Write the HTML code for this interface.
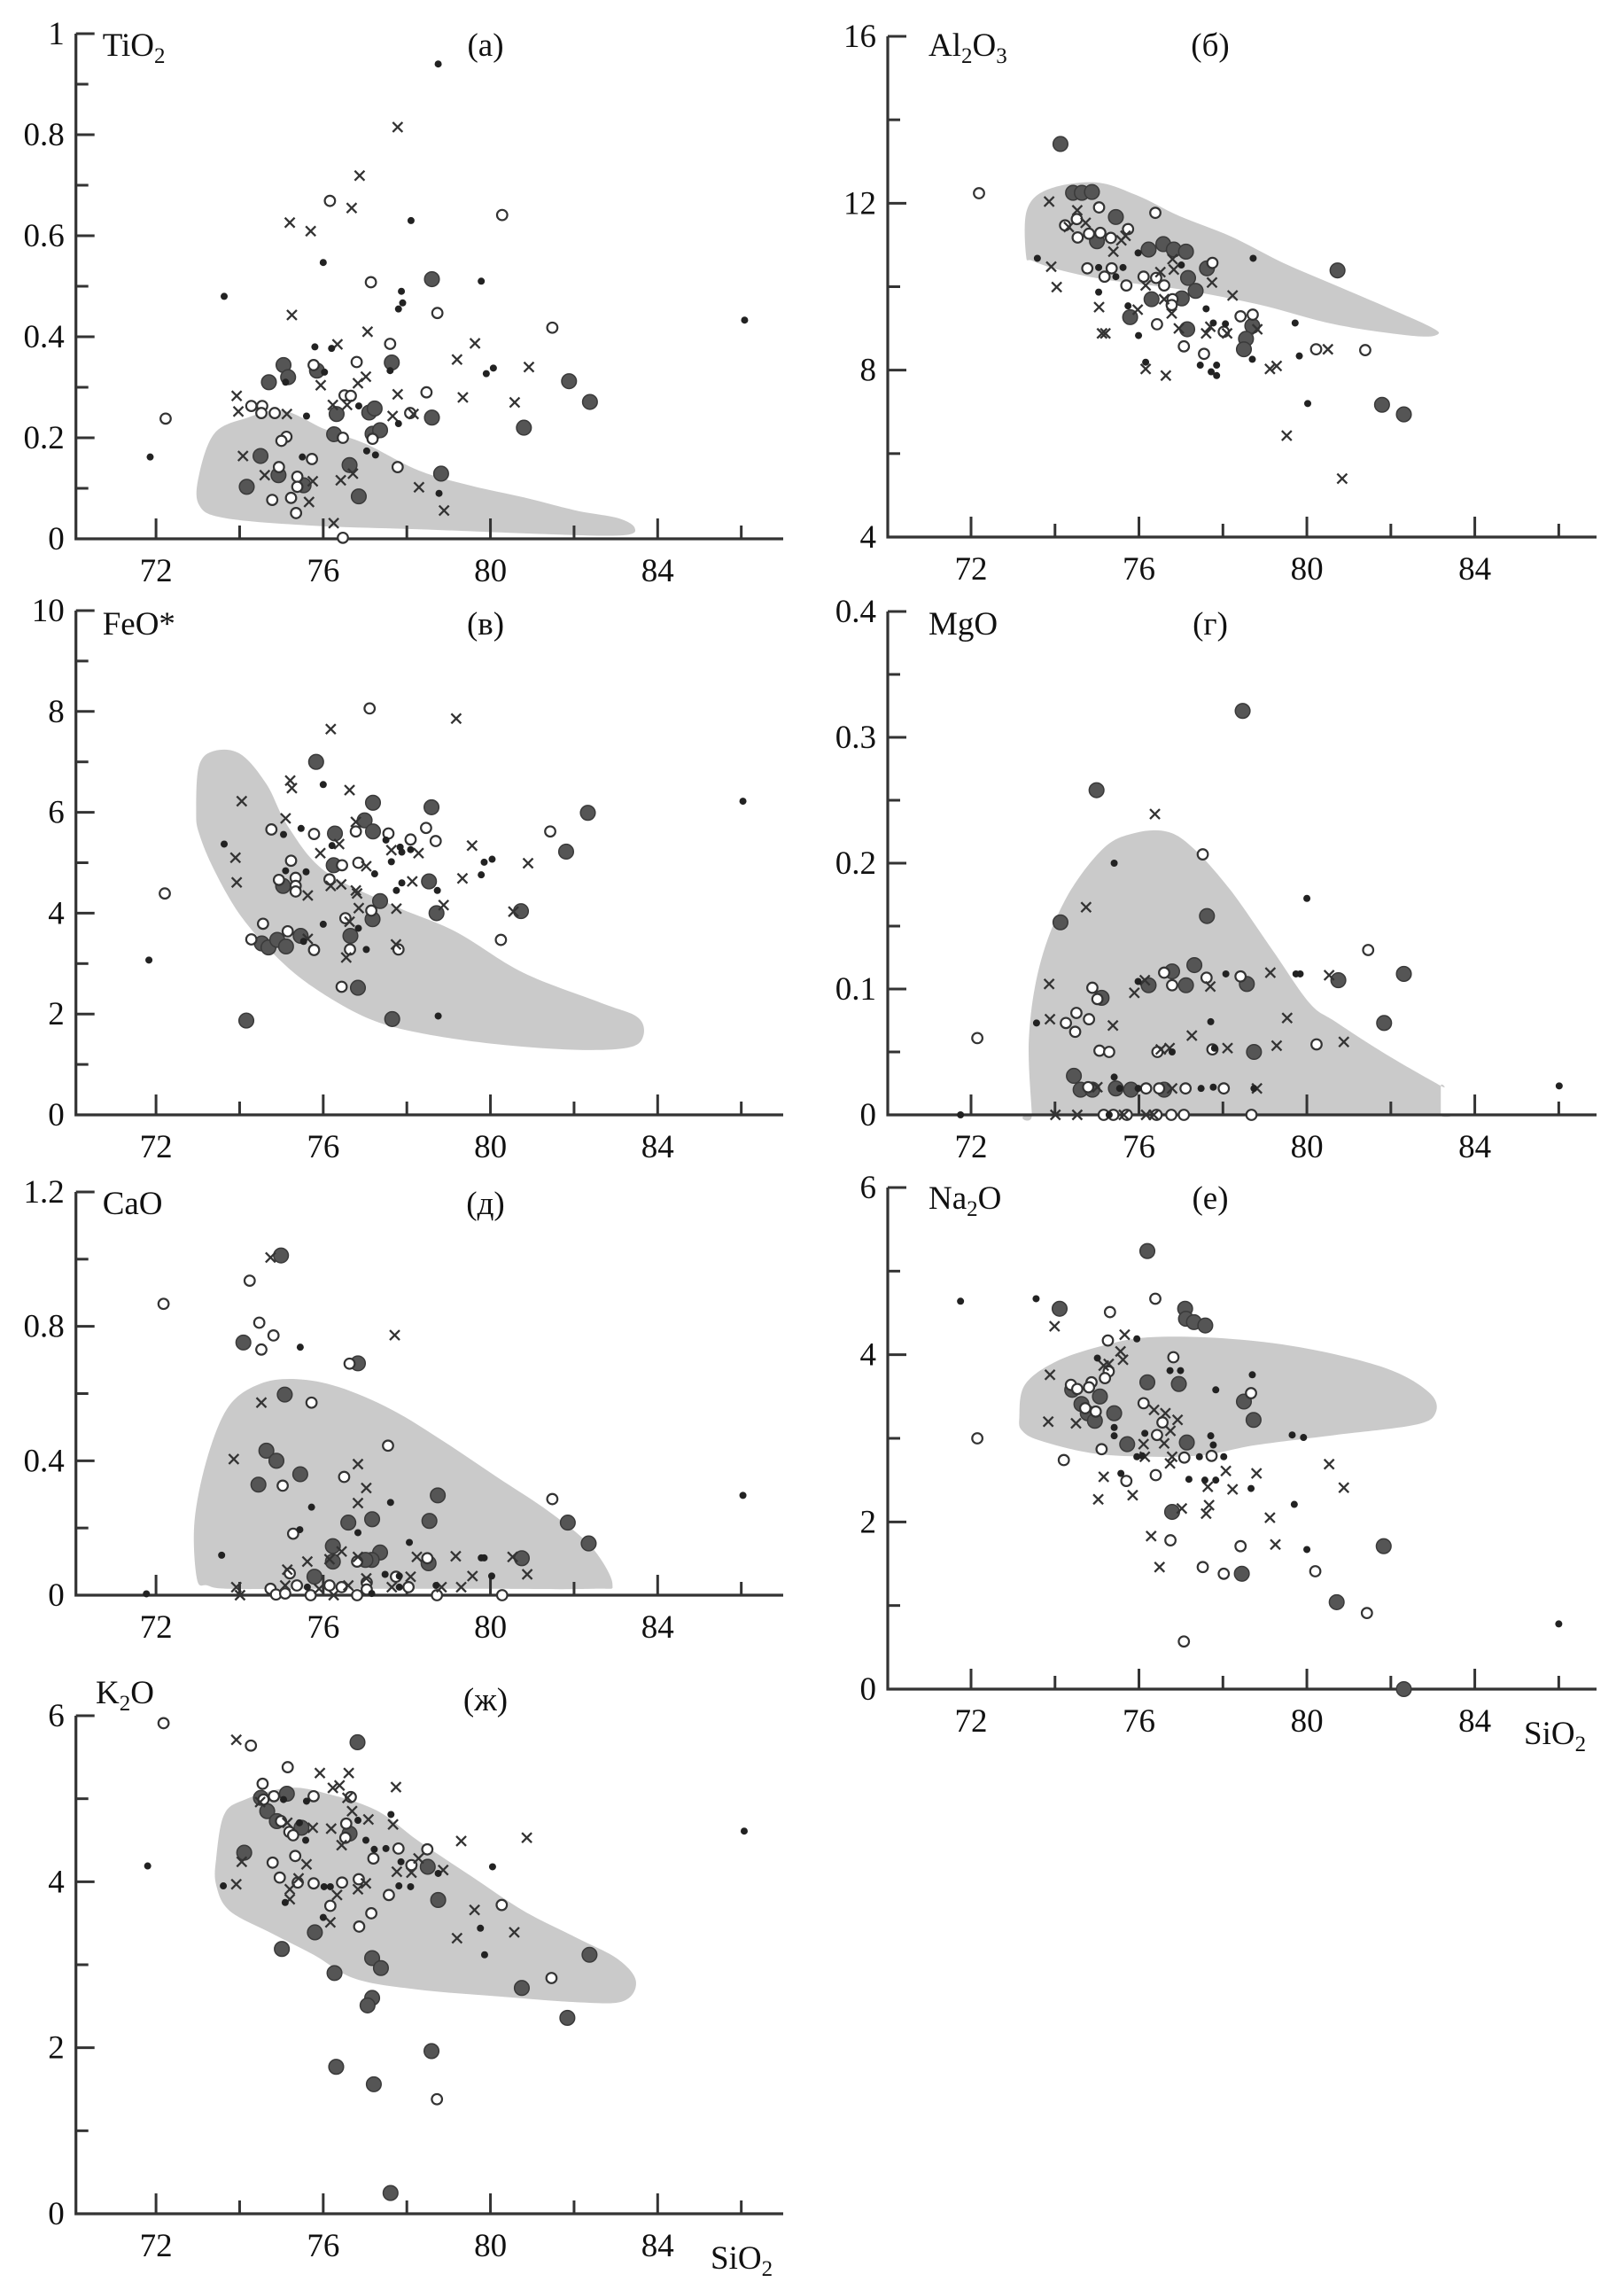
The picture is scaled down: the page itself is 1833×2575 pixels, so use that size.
<!DOCTYPE html>
<html><head><meta charset="utf-8"><title>SiO2 variation diagrams</title>
<style>
html,body{margin:0;padding:0;background:#fff;}
svg{display:block;}
svg text{font-family:"Liberation Serif","DejaVu Serif",serif !important;fill:#111;}
</style></head>
<body>
<svg id="fig" xmlns="http://www.w3.org/2000/svg" width="1833" height="2575" viewBox="0 0 1833 2575" font-family="Liberation Serif, serif"></svg>
<script>
// ---------- data (SiO2, oxide wt%) ----------
const xTickLabels = ['72','76','80','84'];
// TiO2
const tiTickLabels = ['0','0.2','0.4','0.6','0.8','1'];
const tiField = [[73.03,0.127],[73.4,0.209],[74.16,0.239],[75.03,0.254],[76.04,0.217],[77.04,0.187],[78.29,0.135],[79.54,0.105],[80.8,0.082],[82.05,0.056],[83.05,0.041],[83.45,0.022],[83.18,0.007],[81.42,0.009],[78.29,0.019],[75.78,0.026],[73.65,0.041],[73.03,0.067]];
const tiDots = [[71.86,0.162],[73.63,0.48],[78.75,0.94],[76.0,0.547],[78.1,0.63],[79.78,0.51],[77.87,0.49],[77.9,0.467],[77.8,0.455],[86.08,0.433],[75.8,0.38],[76.2,0.377],[80.07,0.338],[79.9,0.327],[77.6,0.333],[75.6,0.243],[76.85,0.263],[77.8,0.228],[77.04,0.174],[77.25,0.166],[75.5,0.162],[78.77,0.09],[75.1,0.31],[76.03,0.33]];
const tiBig = [[78.6,0.514],[75.05,0.344],[75.16,0.32],[74.7,0.31],[75.85,0.333],[77.64,0.349],[81.88,0.312],[82.38,0.271],[76.32,0.247],[77.1,0.25],[77.23,0.258],[78.6,0.24],[80.8,0.22],[76.26,0.207],[77.18,0.208],[77.36,0.215],[74.5,0.164],[74.17,0.103],[74.93,0.126],[75.53,0.106],[76.63,0.146],[76.85,0.084],[78.82,0.129]];
const tiOpen = [[72.23,0.238],[76.16,0.669],[80.28,0.641],[77.14,0.508],[78.73,0.447],[81.48,0.418],[77.6,0.386],[75.77,0.344],[76.8,0.35],[78.47,0.29],[76.51,0.284],[76.66,0.283],[74.28,0.263],[74.54,0.263],[74.52,0.249],[74.84,0.249],[78.08,0.249],[75.12,0.202],[75.0,0.194],[76.47,0.2],[77.18,0.198],[75.73,0.158],[74.94,0.142],[77.78,0.142],[75.38,0.123],[75.38,0.103],[74.78,0.077],[75.23,0.081],[75.35,0.051],[76.47,0.002]];
const tiCross = [[77.78,0.815],[76.87,0.719],[76.68,0.655],[75.2,0.626],[75.7,0.609],[75.25,0.443],[77.06,0.41],[76.34,0.385],[79.63,0.387],[79.2,0.355],[80.92,0.34],[77.02,0.321],[75.94,0.304],[76.83,0.308],[73.93,0.283],[77.78,0.286],[79.34,0.28],[80.58,0.27],[73.97,0.252],[75.13,0.247],[76.23,0.265],[76.57,0.265],[77.66,0.243],[78.16,0.247],[74.08,0.164],[74.6,0.126],[75.75,0.114],[76.42,0.116],[76.71,0.129],[78.29,0.102],[75.66,0.073],[78.89,0.056],[76.25,0.031]];
// Al2O3
const alTickLabels = ['4','8','12','16'];
const alField = [[73.31,10.75],[73.33,11.83],[73.83,12.33],[74.96,12.5],[75.95,12.19],[76.95,11.7],[78.2,11.2],[79.44,10.57],[80.69,10.03],[81.94,9.49],[82.94,9.04],[83.12,8.86],[82.56,8.82],[80.69,9.09],[78.82,9.58],[76.95,9.94],[75.2,10.17],[74.08,10.41],[73.46,10.62]];
const alDots = [[73.58,10.68],[75.04,10.46],[75.62,10.46],[75.45,10.24],[75.04,9.87],[75.74,9.54],[75.99,8.83],[75.98,10.81],[77.01,10.52],[77.6,9.47],[77.77,9.13],[78.06,9.11],[78.72,10.68],[79.72,9.13],[79.82,8.34],[76.16,8.19],[77.46,8.12],[77.85,8.12],[77.72,7.96],[77.85,7.87],[78.7,8.26],[80.02,7.2]];
const alBig = [[74.13,13.42],[74.43,12.25],[74.64,12.25],[74.88,12.27],[75.45,11.67],[75.0,11.09],[76.23,10.89],[76.58,11.02],[76.83,10.89],[77.12,10.84],[77.62,10.44],[77.17,10.21],[77.35,9.9],[77.02,9.72],[76.3,9.7],[75.79,9.27],[77.15,8.98],[78.7,9.06],[78.55,8.75],[78.5,8.5],[80.73,10.39],[81.79,7.17],[82.31,6.94]];
const alOpen = [[72.19,12.24],[75.05,11.9],[76.39,11.77],[74.24,11.47],[74.52,11.62],[75.74,11.38],[74.54,11.18],[74.81,11.27],[75.08,11.29],[75.33,11.17],[74.77,10.44],[75.18,10.24],[75.35,10.44],[75.7,10.03],[76.11,10.24],[76.41,10.21],[76.6,10.03],[76.8,9.7],[76.78,9.56],[77.75,10.57],[76.43,9.1],[77.07,8.57],[77.55,8.39],[78.02,8.92],[78.42,9.29],[78.71,9.33],[80.22,8.5],[81.39,8.48]];
const alCross = [[73.86,12.04],[74.53,11.83],[74.73,11.53],[74.33,11.43],[75.68,11.22],[75.58,11.11],[75.39,10.84],[73.91,10.48],[74.04,9.99],[75.05,9.51],[75.12,8.88],[75.2,8.88],[75.97,9.45],[76.16,10.03],[76.51,10.35],[76.83,10.41],[76.8,10.66],[76.6,9.7],[76.78,9.36],[76.95,9.0],[77.74,10.1],[78.23,9.79],[77.6,8.88],[77.7,9.04],[78.1,8.88],[78.82,8.98],[76.16,8.03],[76.64,7.87],[79.12,8.03],[79.28,8.1],[80.5,8.5],[79.52,6.43],[80.84,5.4]];
// FeO*
const feTickLabels = ['0','2','4','6','8','10'];
const feField = [[72.96,6.03],[73.03,6.93],[73.4,7.22],[74.03,7.15],[74.65,6.55],[75.15,5.73],[76.03,4.84],[77.65,4.16],[79.15,3.64],[80.78,2.82],[82.65,2.22],[83.53,1.93],[83.65,1.55],[83.28,1.33],[82.03,1.29],[80.15,1.4],[78.28,1.63],[77.03,1.93],[75.78,2.52],[74.9,3.12],[74.03,3.94],[73.4,4.84],[73.03,5.58]];
const feDots = [[71.83,3.07],[73.63,5.37],[75.05,5.56],[75.47,5.68],[76.0,6.55],[75.1,4.84],[75.59,4.82],[76.21,5.34],[77.5,5.45],[77.63,5.02],[77.84,5.31],[77.88,5.21],[78.09,5.26],[77.23,4.78],[77.88,4.6],[77.75,4.45],[78.73,4.45],[79.78,4.76],[79.85,5.01],[80.04,5.07],[76.0,3.78],[76.84,3.7],[77.03,3.28],[78.75,1.96],[86.04,6.22],[75.53,3.44]];
const feBig = [[75.83,7.0],[77.19,6.19],[78.59,6.1],[82.33,5.99],[76.99,5.84],[77.19,5.62],[76.28,5.58],[76.25,4.95],[81.81,5.22],[75.04,4.54],[78.53,4.63],[77.36,4.24],[77.18,3.88],[78.71,4.0],[80.73,4.04],[74.53,3.4],[74.69,3.32],[74.9,3.47],[75.11,3.34],[75.46,3.55],[76.65,3.55],[76.83,2.52],[74.16,1.87],[77.65,1.9]];
const feOpen = [[77.11,8.06],[72.21,4.39],[74.76,5.66],[75.78,5.57],[76.78,5.62],[77.56,5.58],[78.09,5.46],[78.46,5.69],[78.69,5.43],[75.23,5.04],[76.45,4.95],[76.84,5.0],[74.94,4.66],[75.34,4.7],[75.34,4.54],[75.34,4.43],[76.15,4.67],[81.43,5.62],[74.56,3.79],[74.28,3.48],[75.15,3.64],[75.78,3.27],[76.53,3.9],[76.64,3.28],[77.15,4.05],[77.8,3.28],[80.25,3.47],[76.44,2.54]];
const feCross = [[76.18,7.65],[79.18,7.86],[75.21,6.63],[75.25,6.48],[76.63,6.44],[74.05,6.22],[75.1,5.88],[76.78,5.81],[75.93,5.19],[76.38,5.37],[77.63,5.25],[78.28,5.19],[79.56,5.34],[73.9,5.1],[77.03,4.93],[80.9,4.99],[73.93,4.61],[75.63,4.35],[76.18,4.54],[76.43,4.57],[76.78,4.45],[76.81,4.39],[78.13,4.63],[79.33,4.69],[76.85,4.1],[77.75,4.09],[78.88,4.16],[80.55,4.03],[76.63,3.83],[75.63,3.49],[76.55,3.12],[77.74,3.38]];
// MgO
const mgTickLabels = ['0','0.1','0.2','0.3','0.4'];
const mgField = [[73.45,0.0],[73.45,0.0],[73.38,0.062],[73.66,0.122],[74.28,0.173],[75.16,0.212],[75.91,0.224],[76.67,0.225],[77.29,0.212],[78.17,0.179],[79.18,0.131],[80.06,0.089],[80.68,0.074],[81.94,0.047],[83.19,0.023],[83.19,0.023],[83.19,0.0],[83.19,0.0],[80.0,0.0],[76.5,0.0]];
const mgDots = [[71.75,0],[73.56,0.073],[75.41,0.2],[75.98,0.106],[80.0,0.172],[75.41,0.03],[75.54,0.021],[75.98,0.021],[77.48,0.021],[77.77,0.022],[77.71,0.074],[76.79,0.05],[78.07,0.112],[79.74,0.112],[79.84,0.112],[86.01,0.023],[75.29,0],[78.74,0.021],[77.8,0.053]];
const mgBig = [[78.47,0.321],[74.99,0.258],[74.13,0.153],[77.62,0.158],[77.32,0.119],[76.79,0.114],[76.23,0.103],[77.12,0.103],[78.57,0.104],[80.75,0.107],[82.31,0.112],[81.84,0.073],[75.11,0.093],[78.74,0.05],[74.45,0.031],[74.61,0.02],[74.89,0.02],[75.45,0.021],[75.81,0.02],[76.6,0.02]];
const mgOpen = [[77.52,0.207],[81.46,0.131],[76.6,0.113],[76.79,0.103],[77.61,0.109],[78.42,0.11],[74.89,0.101],[75.01,0.092],[74.51,0.081],[74.26,0.073],[74.81,0.076],[74.48,0.066],[72.15,0.061],[75.06,0.051],[75.29,0.05],[76.44,0.05],[77.75,0.052],[80.23,0.056],[74.79,0.022],[76.17,0.021],[76.48,0.021],[77.11,0.021],[78.02,0.021],[75.16,0],[75.39,0],[75.71,0],[76.42,0],[76.77,0],[77.07,0],[78.68,0]];
const mgCross = [[76.38,0.239],[74.74,0.165],[73.86,0.104],[75.89,0.097],[76.14,0.107],[77.7,0.102],[79.13,0.113],[80.53,0.111],[73.88,0.076],[75.38,0.071],[79.53,0.077],[77.26,0.063],[76.52,0.052],[76.73,0.053],[78.11,0.053],[79.28,0.055],[80.88,0.058],[75.01,0.022],[76.79,0.021],[78.81,0.021],[74.01,0],[74.53,0],[75.64,0],[76.17,0],[76.35,0]];
// CaO
const caTickLabels = ['0','0.4','0.8','1.2'];
const caField = [[72.98,0.048],[72.92,0.219],[73.23,0.41],[73.74,0.562],[74.49,0.629],[75.37,0.643],[76.38,0.619],[77.64,0.552],[78.89,0.457],[80.15,0.352],[81.41,0.248],[82.42,0.143],[82.92,0.033],[82.42,0.019],[79.52,0.019],[75.75,0.019],[73.74,0.019],[73.23,0.029]];
const caDots = [[71.77,0.004],[73.57,0.119],[75.45,0.738],[75.72,0.262],[75.44,0.195],[76.83,0.186],[77.61,0.276],[78.06,0.157],[77.48,0.062],[80.03,0.057],[79.78,0.111],[79.85,0.111],[78.7,0.029],[86.04,0.297],[75.62,0.024],[77.16,0.005],[77.82,0.024],[77.82,0.057]];
const caBig = [[74.99,1.011],[74.09,0.752],[76.83,0.69],[75.08,0.597],[74.64,0.43],[74.88,0.4],[75.45,0.36],[74.45,0.329],[78.74,0.297],[77.17,0.226],[76.6,0.216],[78.54,0.221],[76.23,0.146],[76.23,0.1],[77.36,0.127],[77.16,0.105],[77.01,0.105],[78.52,0.095],[80.75,0.11],[81.85,0.216],[82.35,0.154],[75.79,0.055]];
const caOpen = [[72.18,0.867],[74.24,0.936],[74.47,0.811],[74.81,0.773],[74.52,0.731],[76.63,0.689],[75.72,0.573],[77.55,0.445],[76.5,0.352],[75.03,0.326],[81.48,0.286],[75.28,0.183],[76.81,0.1],[78.49,0.11],[75.2,0.065],[77.04,0.038],[77.74,0.055],[74.74,0.019],[75.37,0.029],[76.15,0.029],[76.44,0.024],[78.04,0.024],[74.87,0.002],[75.09,0.005],[75.7,0],[76.81,0],[78.72,0],[80.28,0],[77.04,0.017]];
const caCross = [[74.74,1.005],[77.71,0.774],[74.52,0.573],[73.86,0.405],[76.83,0.39],[77.03,0.319],[76.83,0.274],[75.62,0.1],[76.15,0.107],[76.44,0.13],[76.83,0.114],[78.24,0.114],[79.17,0.116],[80.53,0.114],[80.88,0.062],[75.14,0.076],[77.03,0.05],[78.09,0.055],[79.57,0.057],[73.92,0.024],[74.01,0],[75.09,0.029],[75.9,0.019],[76.6,0.029],[77.64,0.024],[78.83,0.024],[79.3,0.024],[76.25,0]];
// Na2O
const naTickLabels = ['0','2','4','6'];
const naField = [[73.15,3.25],[73.28,3.64],[74.03,3.92],[75.16,4.11],[76.29,4.21],[78.17,4.19],[80.05,4.07],[81.93,3.83],[82.93,3.54],[83.06,3.3],[82.56,3.16],[80.68,3.04],[78.8,2.92],[77.54,2.8],[76.29,2.78],[74.91,2.82],[73.66,2.97],[73.22,3.09]];
const naDots = [[71.75,4.64],[73.55,4.67],[75.95,4.19],[75.01,3.96],[76.74,3.81],[76.99,3.81],[77.83,3.58],[78.7,3.76],[75.41,3.13],[75.41,3.03],[76.14,3.06],[79.65,3.04],[79.92,3.01],[77.71,3.03],[77.77,2.92],[77.44,2.78],[78.02,2.78],[75.95,2.78],[75.57,2.58],[77.19,2.51],[77.57,2.5],[77.83,2.5],[78.67,2.4],[79.7,2.21],[80.0,1.67],[86.0,0.78],[76.08,2.79]];
const naBig = [[76.2,5.24],[74.11,4.55],[77.1,4.55],[77.12,4.43],[77.31,4.39],[77.58,4.35],[76.2,3.67],[76.95,3.65],[74.41,3.58],[75.07,3.5],[74.63,3.41],[74.78,3.3],[74.95,3.21],[75.41,3.3],[78.5,3.44],[78.73,3.22],[75.72,2.93],[77.14,2.95],[76.79,2.12],[81.83,1.71],[78.45,1.38],[80.71,1.04],[82.31,0]];
const naOpen = [[76.39,4.67],[75.31,4.51],[75.26,4.17],[76.82,3.97],[75.28,3.8],[75.19,3.72],[74.38,3.64],[74.87,3.67],[74.53,3.59],[74.81,3.61],[74.72,3.36],[74.97,3.32],[76.11,3.42],[76.56,3.19],[76.43,3.04],[78.67,3.54],[75.11,2.87],[74.21,2.74],[77.08,2.77],[77.73,2.79],[76.4,2.56],[75.7,2.49],[76.75,1.78],[78.42,1.71],[77.52,1.46],[78.02,1.38],[80.2,1.41],[81.43,0.91],[77.07,0.57],[72.15,3.0]];
const naCross = [[73.99,4.34],[75.66,4.24],[75.56,4.04],[75.62,3.94],[75.28,3.89],[75.16,3.87],[73.88,3.76],[73.84,3.2],[74.5,3.18],[76.36,3.34],[76.63,3.3],[76.92,3.22],[76.75,3.09],[76.11,2.93],[76.6,2.94],[76.14,2.78],[76.79,2.78],[76.74,2.7],[80.53,2.69],[75.16,2.54],[78.07,2.61],[78.8,2.58],[77.64,2.42],[78.23,2.39],[80.88,2.41],[75.85,2.32],[75.03,2.27],[77.67,2.2],[77.02,2.16],[77.6,2.1],[79.12,2.05],[76.29,1.83],[79.25,1.73],[76.49,1.46]];
// K2O
const kTickLabels = ['0','2','4','6'];
const kField = [[73.44,4.28],[73.63,4.81],[74.13,4.99],[75.14,5.13],[76.02,5.07],[77.27,4.86],[78.28,4.49],[79.53,4.07],[80.79,3.65],[82.04,3.33],[83.04,3.07],[83.48,2.8],[83.17,2.56],[82.04,2.55],[80.16,2.62],[78.28,2.7],[76.77,2.83],[75.77,3.12],[74.76,3.38],[73.76,3.65],[73.44,3.96]];
const kDots = [[71.8,4.19],[73.61,3.95],[75.09,3.75],[75.6,4.97],[75.43,4.71],[75.58,4.5],[76.17,3.94],[76.02,3.94],[76.0,3.57],[76.83,4.74],[77.02,4.5],[77.22,4.39],[77.5,4.4],[77.62,4.81],[77.86,4.24],[77.81,3.95],[78.09,3.94],[78.75,4.1],[79.76,3.44],[79.86,3.12],[80.05,4.18],[86.07,4.61],[75.05,4.99]];
const kBig = [[76.82,5.68],[75.13,5.06],[74.51,5.01],[74.66,4.85],[74.89,4.73],[75.48,4.65],[76.63,4.58],[74.11,4.35],[78.5,4.18],[78.75,3.78],[75.8,3.39],[75.01,3.19],[77.17,3.08],[77.38,2.96],[82.37,3.12],[76.27,2.9],[80.75,2.72],[77.17,2.6],[77.06,2.51],[81.84,2.36],[78.59,1.96],[76.31,1.77],[77.21,1.56],[77.61,0.25]];
const kOpen = [[72.18,5.91],[74.27,5.64],[75.15,5.38],[74.55,5.18],[74.57,4.99],[74.82,5.03],[75.77,5.03],[76.66,5.02],[74.99,4.73],[76.55,4.7],[75.19,4.6],[75.28,4.56],[76.53,4.53],[77.8,4.4],[78.49,4.39],[75.33,4.31],[77.2,4.28],[78.11,4.2],[74.79,4.23],[74.96,4.05],[75.39,3.99],[75.77,3.98],[76.45,3.99],[76.85,4.03],[77.57,3.84],[76.17,3.71],[80.27,3.72],[77.15,3.62],[76.86,3.46],[81.46,2.84],[78.72,1.38]];
const kCross = [[73.92,5.71],[75.92,5.31],[76.61,5.31],[77.74,5.14],[76.23,5.13],[76.39,5.16],[76.58,5.01],[74.49,4.96],[76.69,4.85],[77.08,4.75],[77.67,4.69],[75.14,4.71],[75.75,4.65],[76.19,4.64],[76.44,4.44],[79.3,4.49],[80.87,4.53],[74.05,4.24],[75.6,4.21],[78.28,4.28],[77.76,4.12],[78.11,4.11],[78.87,4.14],[73.92,3.97],[75.41,4.04],[75.2,3.91],[75.2,3.79],[76.33,3.84],[76.83,3.91],[77.02,3.98],[76.17,3.51],[79.62,3.66],[80.57,3.39],[79.2,3.32]];

// ---------- panel layout ----------
const NS = 'http://www.w3.org/2000/svg';
const svg = document.getElementById('fig');
const L = {axisX:85.7, x72:176.1, x84:742.3, xEnd:884};
const R = {axisX:1002, x72:1096, x84:1664.6, xEnd:1802};
const panels = [
  {key:'tio2', col:L, yTopPx:38, yBotPx:608, vmin:0, vmax:1, minor:0.1, labVals:[0,0.2,0.4,0.6,0.8,1], labs:tiTickLabels, title:['Ti','O','2',''], letter:'(а)', titleY:63, field:tiField, dots:tiDots, big:tiBig, open:tiOpen, cross:tiCross},
  {key:'al2o3', col:R, yTopPx:41, yBotPx:606, vmin:4, vmax:16, minor:2, labVals:[4,8,12,16], labs:alTickLabels, title:['Al','2','O','3'], letter:'(б)', titleY:63, field:alField, dots:alDots, big:alBig, open:alOpen, cross:alCross},
  {key:'feo', col:L, yTopPx:689, yBotPx:1258, vmin:0, vmax:10, minor:1, labVals:[0,2,4,6,8,10], labs:feTickLabels, title:['FeO*','',''], letter:'(в)', titleY:716, field:feField, dots:feDots, big:feBig, open:feOpen, cross:feCross},
  {key:'mgo', col:R, yTopPx:690, yBotPx:1258, vmin:0, vmax:0.4, minor:0.05, labVals:[0,0.1,0.2,0.3,0.4], labs:mgTickLabels, title:['MgO','',''], letter:'(г)', titleY:716, field:mgField, dots:mgDots, big:mgBig, open:mgOpen, cross:mgCross},
  {key:'cao', col:L, yTopPx:1345, yBotPx:1800, vmin:0, vmax:1.2, minor:0.2, labVals:[0,0.4,0.8,1.2], labs:caTickLabels, title:['CaO','',''], letter:'(д)', titleY:1370, field:caField, dots:caDots, big:caBig, open:caOpen, cross:caCross},
  {key:'na2o', col:R, yTopPx:1340, yBotPx:1906, vmin:0, vmax:6, minor:1, labVals:[0,2,4,6], labs:naTickLabels, title:['Na','2','O',''], letter:'(е)', titleY:1364, field:naField, dots:naDots, big:naBig, open:naOpen, cross:naCross, sio2:true},
  {key:'k2o', col:L, yTopPx:1936, yBotPx:2498, vmin:0, vmax:6, minor:1, labVals:[0,2,4,6], labs:kTickLabels, title:['K','2','O',''], letter:'(ж)', titleY:1922, titleX:108, letterY:1930, field:kField, dots:kDots, big:kBig, open:kOpen, cross:kCross, sio2:true}
];

function mk(tag, attrs, parent){
  const e = document.createElementNS(NS, tag);
  for (const k in attrs) e.setAttribute(k, attrs[k]);
  (parent||svg).appendChild(e);
  return e;
}
function smoothClosed(pts){
  const n = pts.length; let d = 'M'+pts[0][0].toFixed(1)+','+pts[0][1].toFixed(1);
  for (let i=0;i<n;i++){
    const p0=pts[(i-1+n)%n], p1=pts[i], p2=pts[(i+1)%n], p3=pts[(i+2)%n];
    const c1=[p1[0]+(p2[0]-p0[0])/6, p1[1]+(p2[1]-p0[1])/6];
    const c2=[p2[0]-(p3[0]-p1[0])/6, p2[1]-(p3[1]-p1[1])/6];
    d+=' C'+c1[0].toFixed(1)+','+c1[1].toFixed(1)+' '+c2[0].toFixed(1)+','+c2[1].toFixed(1)+' '+p2[0].toFixed(1)+','+p2[1].toFixed(1);
  }
  return d+'Z';
}

panels.forEach(p => {
  const c = p.col;
  const sx = v => c.x72 + (v-72)*(c.x84-c.x72)/12;
  const sy = v => p.yBotPx - (v-p.vmin)*(p.yBotPx-p.yTopPx)/(p.vmax-p.vmin);
  const g = mk('g', {});
  
  

  const f = mk('path', {d: smoothClosed(p.field.map(q=>[sx(q[0]), sy(q[1])])), fill:'#cacaca'}, g);
  
  

  const ax = mk('path', {d:'M'+c.axisX+','+p.yTopPx+' V'+p.yBotPx+' H'+c.xEnd, fill:'none', stroke:'#333', 'stroke-width':3.2}, g);
  
  
  const nT = Math.round((p.vmax-p.vmin)/p.minor);
  for (let i=0;i<=nT;i++){
    const v = p.vmin + i*p.minor;
    const major = p.labVals.some(l=>Math.abs(l-v)<1e-9);
    const t = mk('line', {x1:c.axisX, x2:c.axisX+(major?21:14), y1:sy(v), y2:sy(v), stroke:'#333', 'stroke-width':3}, g);
    
    
  }
  p.labVals.forEach((v,i)=>{
    const t = mk('text', {x:c.axisX-13, y:sy(v)+12, 'text-anchor':'end', 'font-size':37, 'font-family':'Liberation Serif, serif'}, g);
    t.textContent = p.labs[i];
    
    
  });
  for (let v=72; v<=86; v+=2){
    const major = (v-72)%4===0;
    const t = mk('line', {x1:sx(v), x2:sx(v), y1:p.yBotPx, y2:p.yBotPx-(major?23:15), stroke:'#333', 'stroke-width':3}, g);
    
    
  }
  [72,76,80,84].forEach((v,i)=>{
    const t = mk('text', {x:sx(v), y:p.yBotPx+48, 'text-anchor':'middle', 'font-size':37, 'font-family':'Liberation Serif, serif'}, g);
    t.textContent = xTickLabels[i];
    
    
  });
  if (p.sio2){
    const t = mk('text', {x:c.xEnd-82, y:p.yBotPx+62, 'font-size':37, 'font-family':'Liberation Serif, serif'}, g);
    t.innerHTML = 'SiO<tspan font-size="25" dy="8">2</tspan>';
    
    
  }
  const tx = p.titleX || (c.axisX + (c===L?30:46));
  const tt = mk('text', {x:tx, y:p.titleY, 'font-size':37, 'font-family':'Liberation Serif, serif'}, g);
  const parts = p.title;
  if (parts.length===4){
    if (p.key==='tio2') tt.innerHTML = 'TiO<tspan font-size="25" dy="8">2</tspan>';
    else if (p.key==='al2o3') tt.innerHTML = 'Al<tspan font-size="25" dy="8">2</tspan><tspan dy="-8">O</tspan><tspan font-size="25" dy="8">3</tspan>';
    else tt.innerHTML = parts[0]+'<tspan font-size="25" dy="8">2</tspan><tspan dy="-8">O</tspan>';
  } else tt.textContent = parts[0];
  
  
  const lt = mk('text', {x: c===L?548:1366, y:p.letterY||p.titleY, 'text-anchor':'middle', 'font-size':37, 'font-family':'Liberation Serif, serif'}, g);
  lt.textContent = p.letter;
  
  

  p.big.forEach(q=>{
    const m = mk('circle', {cx:sx(q[0]), cy:sy(q[1]), r:8.3, fill:'#555', stroke:'#3a3a3a', 'stroke-width':1.5}, g);
    
    
  });
  p.open.forEach(q=>{
    const m = mk('circle', {cx:sx(q[0]), cy:sy(q[1]), r:5.8, fill:'#fff', stroke:'#333', 'stroke-width':2.2}, g);
    
    
  });
  p.cross.forEach(q=>{
    const x=sx(q[0]), y=sy(q[1]), h=5.5;
    const m = mk('path', {d:'M'+(x-h)+','+(y-h)+' L'+(x+h)+','+(y+h)+' M'+(x-h)+','+(y+h)+' L'+(x+h)+','+(y-h), stroke:'#333', 'stroke-width':2.3, fill:'none'}, g);
    
    
  });
  p.dots.forEach(q=>{
    const m = mk('circle', {cx:sx(q[0]), cy:sy(q[1]), r:4, fill:'#222'}, g);
    
    
  });
});
</script>
</body></html>
